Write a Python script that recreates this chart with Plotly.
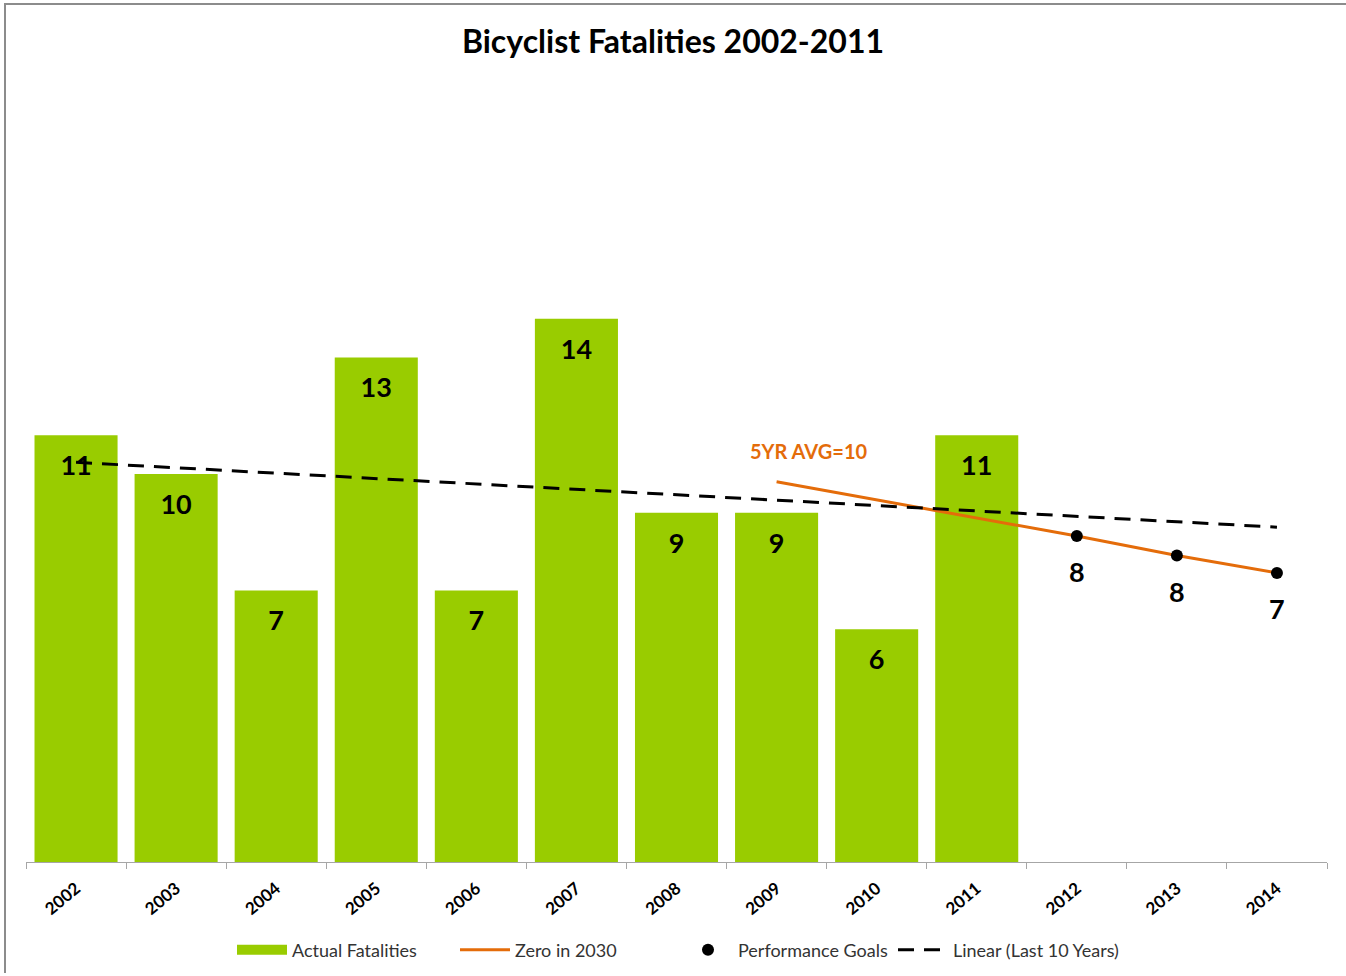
import plotly.graph_objects as go

# ---- data ----
years = ["2002", "2003", "2004", "2005", "2006", "2007", "2008",
         "2009", "2010", "2011", "2012", "2013", "2014"]
actual_years = ["2002", "2003", "2004", "2005", "2006", "2007", "2008",
                "2009", "2010", "2011"]
actual_values = [11, 10, 7, 13, 7, 14, 9, 9, 6, 11]

zero2030_years = ["2009", "2012", "2013", "2014"]
zero2030_values = [9.8, 8.4, 7.9, 7.45]

goal_years = ["2012", "2013", "2014"]
goal_values = [8.4, 7.9, 7.45]
goal_labels = ["8", "8", "7"]

trend_years = ["2002", "2014"]
trend_values = [10.3, 8.63]

GREEN = "#99CC00"
ORANGE = "#E46C0A"
FONT = "Lato"

fig = go.Figure()

fig.add_trace(go.Bar(
    x=actual_years, y=actual_values, name="Actual Fatalities",
    marker=dict(color=GREEN, line=dict(width=0)),
    hoverinfo="x+y", showlegend=False,
))
# legend entry for the bars (wide green patch)
fig.add_trace(go.Scatter(
    x=[None], y=[None], mode="lines", name="Actual Fatalities",
    line=dict(color=GREEN, width=10), legend="legend",
))
# bar value labels, placed a bit below the bar tops
fig.add_trace(go.Scatter(
    x=actual_years, y=[v - 0.85 for v in actual_values], mode="text",
    text=[str(v) for v in actual_values],
    textfont=dict(family=FONT, size=27, color="black", weight="bold"),
    showlegend=False, hoverinfo="skip",
))
fig.add_trace(go.Scatter(
    x=zero2030_years, y=zero2030_values, mode="lines", name="Zero in 2030",
    line=dict(color=ORANGE, width=3), legend="legend",
))
fig.add_trace(go.Scatter(
    x=goal_years, y=goal_values, mode="markers", name="Performance Goals",
    marker=dict(color="black", size=12), legend="legend",
))
fig.add_trace(go.Scatter(
    x=goal_years, y=[v - 1.02 for v in goal_values], mode="text",
    text=goal_labels,
    textfont=dict(family=FONT, size=27, color="black", weight="bold"),
    showlegend=False, hoverinfo="skip",
))
fig.add_trace(go.Scatter(
    x=trend_years, y=trend_values, mode="lines", name="Linear (Last 10 Years)",
    line=dict(color="black", width=3, dash="16px,10px"), legend="legend2",
))

fig.add_annotation(
    x=years.index("2009"), y=10.6, xref="x", yref="y", text="5YR AVG=10",
    showarrow=False, xanchor="left", yanchor="middle", xshift=-29,
    font=dict(family=FONT, size=20, color=ORANGE, weight="bold"),
)

# chart frame (top and left edges)
T, B = 86, 114
PH = 976 - T - B
BASE = 976 - B
fig.add_shape(type="line", xref="paper", yref="paper",
              x0=(4 - 26) / 1301, x1=(1346 - 26) / 1301,
              y0=(BASE - 4) / PH, y1=(BASE - 4) / PH,
              line=dict(color="#8C8C8C", width=2))
fig.add_shape(type="line", xref="paper", yref="paper",
              x0=(5 - 26) / 1301, x1=(5 - 26) / 1301,
              y0=(BASE - 4) / PH, y1=(BASE - 973) / PH,
              line=dict(color="#8C8C8C", width=2))

legend_common = dict(
    orientation="h", yref="container", y=1 - 950 / 976, yanchor="middle",
    xref="container", xanchor="left",
    font=dict(family=FONT, size=18, color="#333"), itemwidth=50,
)

fig.update_layout(
    width=1346, height=976,
    margin=dict(l=26, r=19, t=T, b=B, autoexpand=False),
    paper_bgcolor="white", plot_bgcolor="white",
    bargap=0.17,
    title=dict(text="<b>Bicyclist Fatalities 2002-2011</b>",
               x=0.5, xanchor="center", y=1 - 42 / 976, yanchor="middle",
               yref="container",
               font=dict(family=FONT, size=32, color="black")),
    font=dict(family=FONT, color="#222"),
    xaxis=dict(
        type="category", categoryorder="array", categoryarray=years,
        range=[-0.5, 12.5],
        showline=True, linecolor="#A6A6A6", linewidth=1,
        ticks="outside", ticklen=6, tickcolor="#A6A6A6", tickson="boundaries",
        tickangle=-40, ticklabelstandoff=9,
        tickfont=dict(family=FONT, size=17, color="black", weight="bold"),
        showgrid=False, zeroline=False,
    ),
    yaxis=dict(range=[0, 20], visible=False, showgrid=False, zeroline=False),
    legend=dict(**legend_common, x=232 / 1346, entrywidth=158),
    legend2=dict(**legend_common, x=893 / 1346),
    showlegend=True,
)

fig.write_html("out.html", config={"displayModeBar": False},
               post_script="document.body.style.margin='0';")
